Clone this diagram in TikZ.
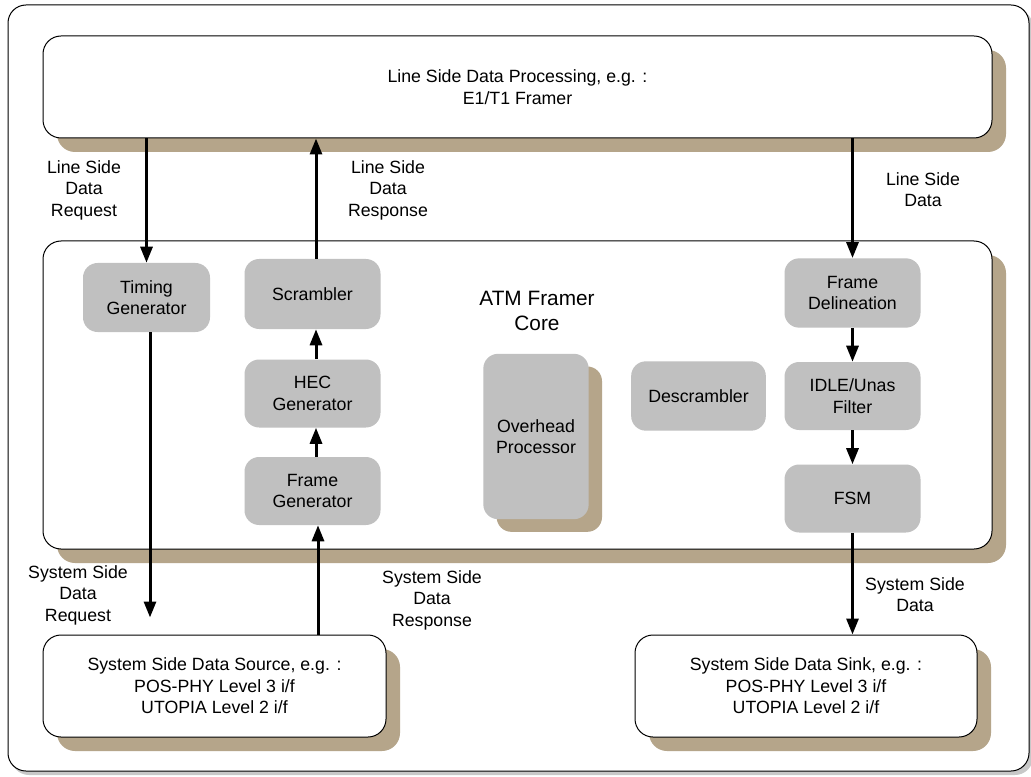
\documentclass[tikz,border=0pt]{standalone}
\usepackage{fontspec}
\setmainfont{Liberation Sans}
\usetikzlibrary{arrows.meta,shadows,calc}
\definecolor{shade}{RGB}{181,165,138}
\definecolor{blockgrey}{RGB}{192,192,192}
\definecolor{rimgrey}{RGB}{200,200,200}

\tikzset{
  lbl/.style={align=center, inner sep=0pt, font=\fontsize{13.3}{16.1}\selectfont},
  biglbl/.style={align=center, inner sep=0pt, font=\fontsize{15.6}{18.8}\selectfont},
  panel/.style={lbl, draw=black, line width=0.75pt, fill=white, rounded corners=13.5pt,
    drop shadow={shadow xshift=10.5pt, shadow yshift=-10.5pt, fill=shade, opacity=1}},
  block/.style={lbl, fill=blockgrey, rounded corners=11pt},
  shblock/.style={block, drop shadow={shadow xshift=10pt, shadow yshift=-9.5pt, fill=shade, opacity=1}},
  arr/.style={line width=2.25pt, -{Triangle[length=12pt,width=9pt]}},
}

\begin{document}
\begin{tikzpicture}[x=0.75pt,y=-0.75pt]
  \useasboundingbox (0,0) rectangle (1031,777);

  % outer frame with a thin grey shadow
  \fill[rimgrey, rounded corners=13.5pt] (11,9) rectangle (1033,775);
  \draw[fill=white, line width=0.75pt, rounded corners=13.5pt] (8,5) rectangle (1029,771);

  % large panels
  \node[panel, minimum width=711.75pt, minimum height=76.5pt] (top) at (517.5,87)
    {Line Side Data Processing, e.g. :\\E1/T1 Framer};
  \node[panel, minimum width=711.75pt, minimum height=231pt] (core) at (517.5,395) {};
  \node[panel, minimum width=257.25pt, minimum height=76.5pt] (src) at (214.5,686)
    {System Side Data Source, e.g. :\\POS-PHY Level 3 i/f\\UTOPIA Level 2 i/f};
  \node[panel, minimum width=256.5pt, minimum height=76.5pt] (snk) at (806,686)
    {System Side Data Sink, e.g. :\\POS-PHY Level 3 i/f\\UTOPIA Level 2 i/f};

  % core title
  \node[biglbl] (title) at (537,311) {ATM Framer\\Core};

  % functional blocks inside the core
  \node[block, minimum width=95.25pt, minimum height=51.75pt] (tg) at (146.5,297.5) {Timing\\Generator};
  \node[block, minimum width=102pt, minimum height=52.5pt] (scr) at (312.5,294) {Scrambler};
  \node[block, minimum width=102pt, minimum height=51pt] (hec) at (312.5,393.5) {HEC\\Generator};
  \node[block, minimum width=102pt, minimum height=51pt] (fg) at (312.5,491) {Frame\\Generator};
  \node[shblock, minimum width=79pt, minimum height=124pt] (ohp) at (536,436.5) {Overhead\\Processor};
  \node[block, minimum width=101pt, minimum height=52pt] (dsc) at (698.5,396) {Descrambler};
  \node[block, minimum width=102pt, minimum height=52pt] (fd) at (852.5,293) {Frame\\Delineation};
  \node[block, minimum width=102pt, minimum height=51pt] (idle) at (852.5,396) {IDLE/Unas\\Filter};
  \node[block, minimum width=102pt, minimum height=51pt] (fsm) at (852.5,498.5) {FSM};

  % connector labels
  \node[lbl] (l1) at (84,190) {Line Side\\Data\\Request};
  \node[lbl] (l2) at (388,190) {Line Side\\Data\\Response};
  \node[lbl] (l3) at (923,189.5) {Line Side\\Data};
  \node[lbl] (l4) at (78,595) {System Side\\Data\\Request};
  \node[lbl] (l5) at (432,600) {System Side\\Data\\Response};
  \node[lbl] (l6) at (915,594.5) {System Side\\Data};

  % data paths
  \draw[arr] (top.south -| tg.north) -- (tg.north);
  \draw[arr] ($(tg.south)+(3.5,0)$) -- ($(src.north -| tg.south)+(3.5,-17)$);
  \draw[arr] ($(scr.north)+(3.5,0)$) -- ($(top.south -| scr.north)+(3.5,0)$);
  \draw[arr] ($(hec.north)+(3.5,0)$) -- ($(scr.south)+(3.5,0)$);
  \draw[arr] ($(fg.north)+(3.5,0)$) -- ($(hec.south)+(3.5,0)$);
  \draw[arr] ($(src.north -| fg.south)+(5.5,0)$) -- ($(fg.south)+(5.5,0)$);
  \draw[arr] (top.south -| fd.north) -- (fd.north);
  \draw[arr] (fd.south) -- (idle.north);
  \draw[arr] (idle.south) -- (fsm.north);
  \draw[arr] (fsm.south) -- (snk.north -| fsm.south);
\end{tikzpicture}
\end{document}
